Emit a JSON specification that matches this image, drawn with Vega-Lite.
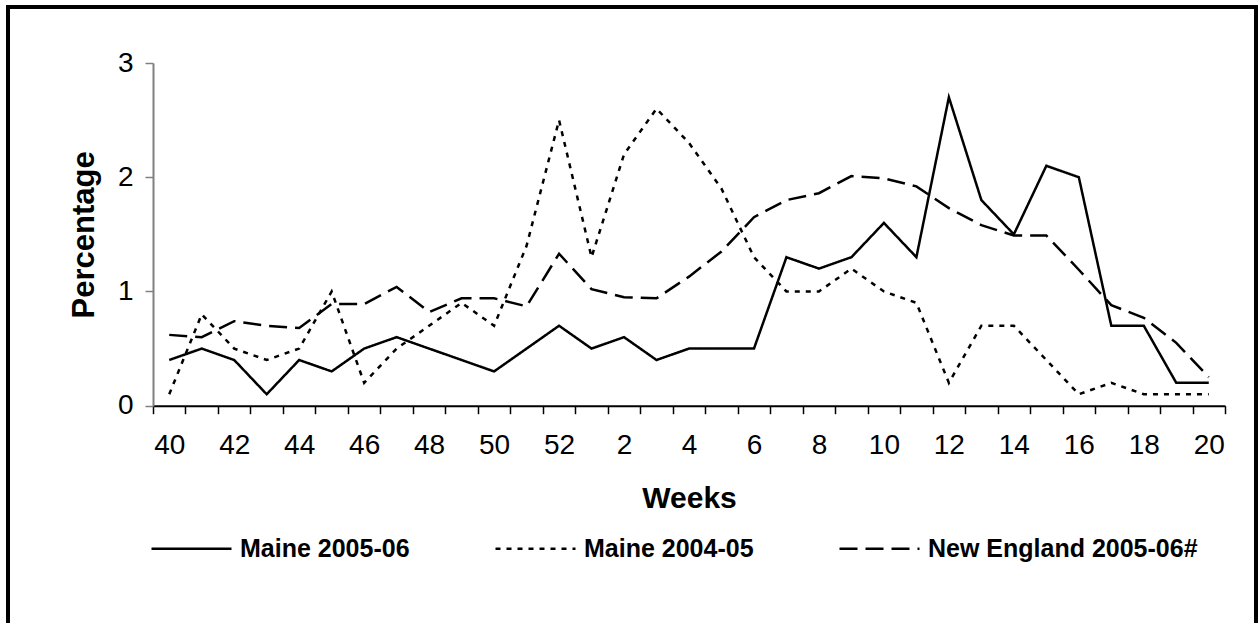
{
  "$schema": "https://vega.github.io/schema/vega-lite/v6.json",
  "width": 1248,
  "height": 616,
  "autosize": "none",
  "padding": {"left": 8, "top": 7, "right": 3, "bottom": 0},
  "background": "white",
  "config": {
    "font": "Liberation Sans",
    "view": {"stroke": "black", "strokeWidth": 4, "strokeDash": [1864, 1248, 700]}
  },
  "data": {
    "values": [
      {"week": 40, "Maine 2005-06": 0.4, "Maine 2004-05": 0.1, "New England 2005-06#": 0.62},
      {"week": 41, "Maine 2005-06": 0.5, "Maine 2004-05": 0.8, "New England 2005-06#": 0.6},
      {"week": 42, "Maine 2005-06": 0.4, "Maine 2004-05": 0.5, "New England 2005-06#": 0.74},
      {"week": 43, "Maine 2005-06": 0.1, "Maine 2004-05": 0.4, "New England 2005-06#": 0.7},
      {"week": 44, "Maine 2005-06": 0.4, "Maine 2004-05": 0.5, "New England 2005-06#": 0.68},
      {"week": 45, "Maine 2005-06": 0.3, "Maine 2004-05": 1.0, "New England 2005-06#": 0.89},
      {"week": 46, "Maine 2005-06": 0.5, "Maine 2004-05": 0.2, "New England 2005-06#": 0.89},
      {"week": 47, "Maine 2005-06": 0.6, "Maine 2004-05": 0.5, "New England 2005-06#": 1.04},
      {"week": 48, "Maine 2005-06": 0.5, "Maine 2004-05": 0.7, "New England 2005-06#": 0.82},
      {"week": 49, "Maine 2005-06": 0.4, "Maine 2004-05": 0.9, "New England 2005-06#": 0.94},
      {"week": 50, "Maine 2005-06": 0.3, "Maine 2004-05": 0.7, "New England 2005-06#": 0.94},
      {"week": 51, "Maine 2005-06": 0.5, "Maine 2004-05": 1.4, "New England 2005-06#": 0.87},
      {"week": 52, "Maine 2005-06": 0.7, "Maine 2004-05": 2.5, "New England 2005-06#": 1.33},
      {"week": 1, "Maine 2005-06": 0.5, "Maine 2004-05": 1.3, "New England 2005-06#": 1.02},
      {"week": 2, "Maine 2005-06": 0.6, "Maine 2004-05": 2.2, "New England 2005-06#": 0.95},
      {"week": 3, "Maine 2005-06": 0.4, "Maine 2004-05": 2.6, "New England 2005-06#": 0.94},
      {"week": 4, "Maine 2005-06": 0.5, "Maine 2004-05": 2.3, "New England 2005-06#": 1.13},
      {"week": 5, "Maine 2005-06": 0.5, "Maine 2004-05": 1.9, "New England 2005-06#": 1.35},
      {"week": 6, "Maine 2005-06": 0.5, "Maine 2004-05": 1.3, "New England 2005-06#": 1.65},
      {"week": 7, "Maine 2005-06": 1.3, "Maine 2004-05": 1.0, "New England 2005-06#": 1.8},
      {"week": 8, "Maine 2005-06": 1.2, "Maine 2004-05": 1.0, "New England 2005-06#": 1.86},
      {"week": 9, "Maine 2005-06": 1.3, "Maine 2004-05": 1.2, "New England 2005-06#": 2.01},
      {"week": 10, "Maine 2005-06": 1.6, "Maine 2004-05": 1.0, "New England 2005-06#": 1.99},
      {"week": 11, "Maine 2005-06": 1.3, "Maine 2004-05": 0.9, "New England 2005-06#": 1.92},
      {"week": 12, "Maine 2005-06": 2.7, "Maine 2004-05": 0.2, "New England 2005-06#": 1.73},
      {"week": 13, "Maine 2005-06": 1.8, "Maine 2004-05": 0.7, "New England 2005-06#": 1.58},
      {"week": 14, "Maine 2005-06": 1.5, "Maine 2004-05": 0.7, "New England 2005-06#": 1.49},
      {"week": 15, "Maine 2005-06": 2.1, "Maine 2004-05": 0.4, "New England 2005-06#": 1.49},
      {"week": 16, "Maine 2005-06": 2.0, "Maine 2004-05": 0.1, "New England 2005-06#": 1.19},
      {"week": 17, "Maine 2005-06": 0.7, "Maine 2004-05": 0.2, "New England 2005-06#": 0.88},
      {"week": 18, "Maine 2005-06": 0.7, "Maine 2004-05": 0.1, "New England 2005-06#": 0.77},
      {"week": 19, "Maine 2005-06": 0.2, "Maine 2004-05": 0.1, "New England 2005-06#": 0.55},
      {"week": 20, "Maine 2005-06": 0.2, "Maine 2004-05": 0.1, "New England 2005-06#": 0.25}
    ]
  },
  "transform": [
    {"fold": ["Maine 2005-06", "Maine 2004-05", "New England 2005-06#"], "as": ["series", "value"]}
  ],
  "mark": {"type": "line", "color": "black", "strokeWidth": 2.5},
  "encoding": {
    "x": {
      "field": "week",
      "type": "ordinal",
      "scale": {
        "domain": [40, 41, 42, 43, 44, 45, 46, 47, 48, 49, 50, 51, 52, 1, 2, 3, 4, 5, 6, 7, 8, 9, 10, 11, 12, 13, 14, 15, 16, 17, 18, 19, 20],
        "range": [145, 1217],
        "paddingInner": 0,
        "paddingOuter": 0
      },
      "axis": {
        "orient": "bottom",
        "offset": -217.3,
        "domainColor": "black",
        "domainWidth": 2,
        "tickColor": "black",
        "tickWidth": 1.5,
        "tickSize": 8,
        "tickBand": "extent",
        "labelAngle": 0,
        "labelFontSize": 28,
        "labelColor": "black",
        "labelPadding": 18,
        "labelOverlap": false,
        "labelExpr": "datum.value % 2 === 0 ? datum.label : ''",
        "title": "Weeks",
        "titleFontSize": 30,
        "titleFontWeight": "bold",
        "titleColor": "black",
        "titleBaseline": "middle",
        "titleY": 93
      }
    },
    "y": {
      "field": "value",
      "type": "quantitative",
      "scale": {"domain": [0, 3], "range": [398.7, 56], "nice": false},
      "axis": {
        "orient": "left",
        "offset": -145,
        "values": [0, 1, 2, 3],
        "grid": false,
        "domainColor": "#808080",
        "domainWidth": 2,
        "tickColor": "#808080",
        "tickWidth": 1.5,
        "tickSize": 8,
        "labelFontSize": 28,
        "labelColor": "black",
        "labelPadding": 12,
        "title": "Percentage",
        "titleFontSize": 31,
        "titleFontWeight": "bold",
        "titleColor": "black",
        "titleAngle": 270,
        "titleBaseline": "middle",
        "titleX": -69
      }
    },
    "strokeDash": {
      "field": "series",
      "type": "nominal",
      "scale": {
        "domain": ["Maine 2005-06", "Maine 2004-05", "New England 2005-06#"],
        "range": [[1, 0], [5, 6], [18, 8]]
      },
      "legend": {
        "title": null,
        "orient": "none",
        "direction": "horizontal",
        "legendX": 142,
        "legendY": 500,
        "padding": 0,
        "symbolType": "stroke",
        "symbolSize": 6400,
        "symbolStrokeColor": "black",
        "symbolStrokeWidth": 2.5,
        "labelFontSize": 25,
        "labelFontWeight": "bold",
        "labelColor": "black",
        "labelOffset": 7,
        "labelLimit": 0,
        "columnPadding": 80
      }
    }
  }
}
